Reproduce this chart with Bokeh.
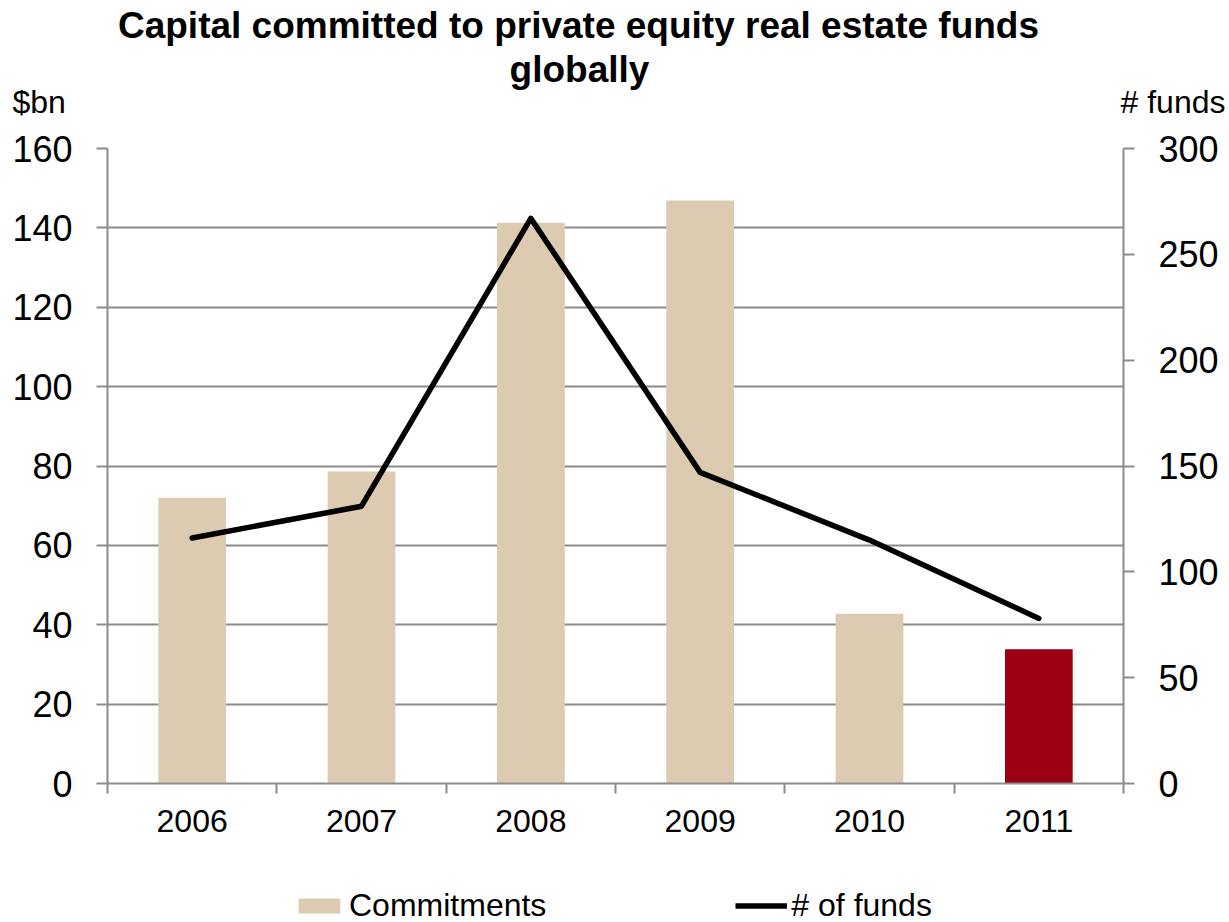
from bokeh.plotting import figure
from bokeh.layouts import column
from bokeh.models import (ColumnDataSource, Range1d, LinearAxis,
                          SingleIntervalTicker, FixedTicker, Legend, LegendItem, Label, Grid)
from bokeh.embed import file_html
from bokeh.resources import INLINE

# ---- data ----
years = ["2006", "2007", "2008", "2009", "2010", "2011"]
commitments = [72.0, 78.6, 141.3, 146.9, 42.8, 33.8]     # $bn, left axis
num_funds = [116, 131, 267, 147, 115, 78]                 # # funds, right axis
highlight_year = "2011"

# ---- style ----
BEIGE = "#DDCBB1"
RED = "#9B0015"
GRAY = "#8C8C8C"
FONT = "Liberation Sans"
W = 1229
HEAD_H, MAIN_H, FOOT_H = 120, 732, 70      # total 922
FL, FR = 107, 1123                          # frame left / right on the page

n = len(years)
centers = [i + 0.5 for i in range(n)]          # category slot centres on an index scale
colors = [RED if y == highlight_year else BEIGE for y in years]
src = ColumnDataSource(dict(x=centers, year=years, commitments=commitments,
                            funds=num_funds, color=colors))


def bare(fig):
    fig.outline_line_color = None
    fig.background_fill_color = "white"
    fig.border_fill_color = "white"
    for g in list(fig.center):
        fig.center.remove(g)
    return fig


def txt(text, x, y, align, size, bold=False, units="data"):
    return Label(x=x, y=y, x_units=units, y_units=units, text=text,
                 text_align=align, text_baseline="alphabetic",
                 text_font=FONT, text_font_style="bold" if bold else "normal",
                 text_font_size=size, text_color="black")


# ---------------- header: title and axis titles ----------------
head = bare(figure(width=W, height=HEAD_H, x_range=Range1d(FL, FR), y_range=Range1d(HEAD_H, 0),
                   output_backend="svg", toolbar_location=None,
                   x_axis_location=None, y_axis_location=None,
                   min_border_left=FL, min_border_right=W - FR,
                   min_border_top=0, min_border_bottom=0))
head.add_layout(txt("Capital committed to private equity real estate funds", 578, 25,
                    "center", "37px", True))
head.add_layout(txt("globally", 579, 69, "center", "37px", True))
head.add_layout(txt("$bn", 12, 101, "left", "32px", units="canvas"), "left")
head.add_layout(txt("# funds", 1225, 101, "right", "32px", units="canvas"), "right")

# ---------------- main chart ----------------
p = bare(figure(width=W, height=MAIN_H,
                x_range=Range1d(0, n), y_range=Range1d(0, 160),
                output_backend="svg", toolbar_location=None,
                x_axis_location=None, y_axis_location=None,
                min_border_left=FL, min_border_right=W - FR,
                min_border_top=148 - HEAD_H, min_border_bottom=HEAD_H + MAIN_H - 783))
p.extra_y_ranges = {"funds": Range1d(0, 300)}

p.add_layout(Grid(dimension=1, ticker=SingleIntervalTicker(interval=20),
                  grid_line_color=GRAY, grid_line_width=2))

la = LinearAxis(ticker=SingleIntervalTicker(interval=20))
ra = LinearAxis(y_range_name="funds", ticker=SingleIntervalTicker(interval=50))
for ax in (la, ra):
    ax.axis_line_color = GRAY
    ax.axis_line_width = 2
    ax.major_tick_line_color = GRAY
    ax.major_tick_line_width = 2
    ax.major_tick_out = 11
    ax.major_tick_in = 0
    ax.minor_tick_line_color = None
    ax.major_label_standoff = 24
    ax.major_label_text_font = FONT
    ax.major_label_text_font_size = "36px"
    ax.major_label_text_color = "black"
p.add_layout(la, "left")
p.add_layout(ra, "right")

xa = LinearAxis(ticker=FixedTicker(ticks=centers, minor_ticks=list(range(n + 1))),
                major_label_overrides={c: y for c, y in zip(centers, years)})
xa.axis_line_color = GRAY
xa.axis_line_width = 2
xa.major_tick_line_color = None
xa.major_tick_out = 0
xa.major_tick_in = 0
xa.minor_tick_line_color = GRAY
xa.minor_tick_line_width = 2
xa.minor_tick_out = 10
xa.minor_tick_in = 0
xa.major_label_standoff = 16
xa.major_label_text_font = FONT
xa.major_label_text_font_size = "32px"
xa.major_label_text_color = "black"
p.add_layout(xa, "below")

p.vbar(x="x", top="commitments", width=0.4, source=src, fill_color="color", line_color=None)
p.line(x="x", y="funds", source=src, y_range_name="funds",
       line_color="black", line_width=5.5, line_join="round", line_cap="round")

# ---------------- footer: legend ----------------
foot = bare(figure(width=W, height=FOOT_H, x_range=Range1d(0, n), y_range=Range1d(1000, 1001),
                   output_backend="svg", toolbar_location=None,
                   x_axis_location=None, y_axis_location=None,
                   min_border_left=FL, min_border_right=W - FR,
                   min_border_top=0, min_border_bottom=0))
# legend proxies (same data, far outside the footer's visible range)
lb = foot.vbar(x="x", top="commitments", width=0.4, source=src, fill_color="color", line_color=None)
ll = foot.line(x="x", y="funds", source=src, line_color="black", line_width=5.5)

legend = Legend(items=[LegendItem(label="Commitments", renderers=[lb], index=0),
                       LegendItem(label="# of funds", renderers=[ll])],
                orientation="horizontal", location=(293 - FL, -2),
                padding=0, margin=0, spacing=189, label_standoff=4,
                glyph_width=52, glyph_height=19,
                label_text_font=FONT, label_text_font_size="32px", label_text_color="black",
                border_line_color=None, background_fill_alpha=0)
foot.add_layout(legend, "center")

layout = column(head, p, foot, spacing=0)
open("out.html", "w").write(file_html(layout, INLINE))
